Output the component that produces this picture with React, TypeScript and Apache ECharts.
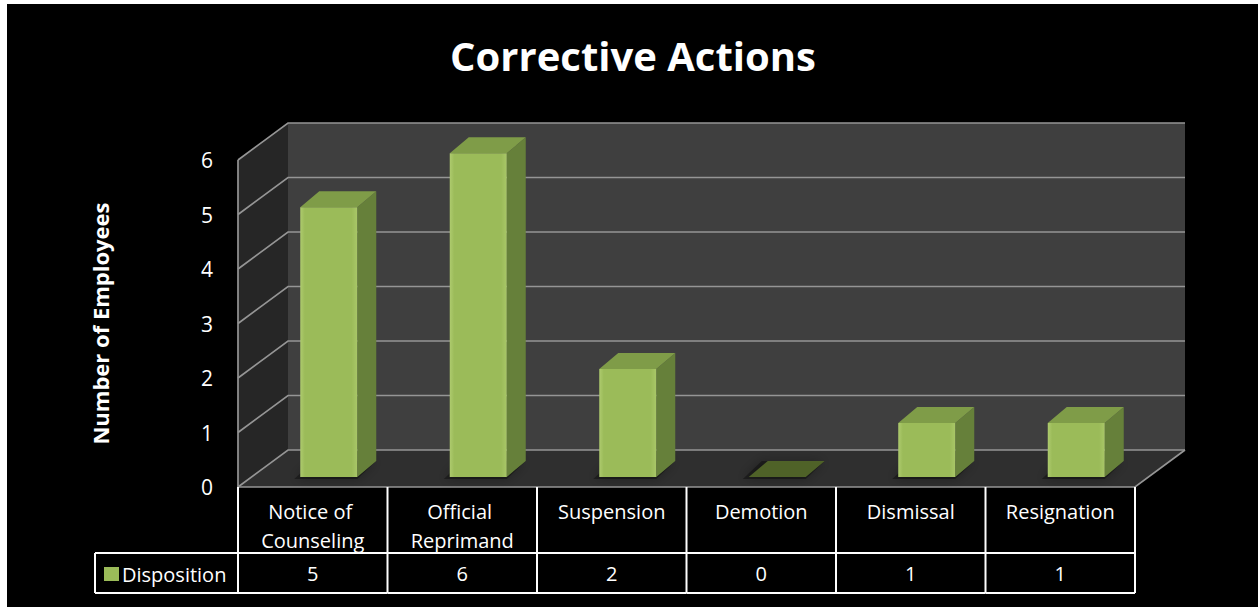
import React, { useEffect, useRef } from "react";
import * as echarts from "echarts";

const categories = ["Notice of Counseling", "Official Reprimand", "Suspension", "Demotion", "Dismissal", "Resignation"];
const disposition = [5, 6, 2, 0, 1, 1];
const yTicks = [0, 1, 2, 3, 4, 5, 6];
const seriesName = "Disposition";
const chartTitle = "Corrective Actions";
const yAxisTitle = "Number of Employees";

const FONT = "'Open Sans', 'Noto Sans', sans-serif";
const DEPTH = [50, -37];
const BAR_FRONT = [16, -10];
const BAR_DEPTH = [19, -16];
const BAR_W = 57;
const ROW1_H = 66;
const ROW2_H = 40;
const LEGEND_CELL_W = 143;

export default function App() {
  const ref = useRef<HTMLDivElement>(null);
  useEffect(() => {
    if (!ref.current) return;
    const chart = echarts.init(ref.current, undefined, { renderer: "svg" });
    const barData = disposition.map((v, i) => [i, v]);

    const wallsRender = (params: any, api: any) => {
      const cs = params.coordSys;
      const L = cs.x;
      const R = cs.x + cs.width;
      const yTop = api.coord([0, yTicks[yTicks.length - 1]])[1];
      const y0 = api.coord([0, 0])[1];
      const [dx, dy] = DEPTH;
      const children: any[] = [
        { type: "polygon", shape: { points: [[L, yTop], [L + dx, yTop + dy], [L + dx, y0 + dy], [L, y0]] }, style: { fill: "#262626" } },
        { type: "polygon", shape: { points: [[L + dx, yTop + dy], [R + dx, yTop + dy], [R + dx, y0 + dy], [L + dx, y0 + dy]] }, style: { fill: "#3f3f3f" } },
        { type: "polygon", shape: { points: [[L, y0], [R, y0], [R + dx, y0 + dy], [L + dx, y0 + dy]] }, style: { fill: "#2f2f2f" } },
      ];
      yTicks.forEach((t) => {
        const y = api.coord([0, t])[1];
        children.push({
          type: "polyline",
          shape: { points: [[L, y], [L + dx, y + dy], [R + dx, y + dy]] },
          style: { stroke: "#959595", lineWidth: 1.7, fill: null },
        });
      });
      children.push({
        type: "polyline",
        shape: { points: [[L, yTop], [L, y0], [R, y0], [R + dx, y0 + dy]] },
        style: { stroke: "#959595", lineWidth: 1.7, fill: null },
      });
      return { type: "group", children };
    };

    const barsRender = (params: any, api: any) => {
      const i = api.value(0);
      const v = api.value(1);
      const [cx, yv] = api.coord([i, v]);
      const yb0 = api.coord([i, 0])[1];
      const h = (yb0 - yv) * 0.99;
      const xl = cx + BAR_FRONT[0] - BAR_W / 2;
      const xr = xl + BAR_W;
      const yb = yb0 + BAR_FRONT[1];
      const yt = yb - h;
      const [dx, dy] = BAR_DEPTH;
      const children: any[] = [];
      children.push({
        type: "polygon",
        shape: { points: [[xl - 6, yb + 2], [xr, yb + 2], [xr + dx, yb + dy], [xl + dx - 6, yb + dy]] },
        style: { fill: "rgba(0,0,0,0.35)", shadowBlur: 12, shadowColor: "rgba(0,0,0,0.8)" },
      });
      if (h < 1) {
        children.push({
          type: "polygon",
          shape: { points: [[xl, yb], [xr, yb], [xr + dx, yb + dy], [xl + dx, yb + dy]] },
          style: { fill: "#4f6228" },
        });
        return { type: "group", children };
      }
      children.push({
        type: "polygon",
        shape: { points: [[xr, yt], [xr + dx, yt + dy], [xr + dx, yb + dy], [xr, yb]] },
        style: { fill: "#66803a" },
      });
      children.push({
        type: "polygon",
        shape: { points: [[xl, yt], [xl + dx, yt + dy], [xr + dx, yt + dy], [xr, yt]] },
        style: { fill: "#7f9c48" },
      });
      children.push({
        type: "rect",
        shape: { x: xl, y: yt, width: BAR_W, height: h },
        style: {
          fill: new echarts.graphic.LinearGradient(0, 0, 1, 0, [
            { offset: 0, color: "#aecb6e" },
            { offset: 0.08, color: "#9bbb59" },
            { offset: 0.9, color: "#9bbb59" },
            { offset: 1, color: "#a9c768" },
          ]),
        },
      });
      return { type: "group", children };
    };

    const tableRender = (params: any, api: any) => {
      const cs = params.coordSys;
      const i = api.value(0);
      const v = api.value(1);
      const [cx, y0] = api.coord([i, 0]);
      const half = api.size([1, 0])[0] / 2;
      const left = cx - half;
      const right = cx + half;
      const yMid = y0 + ROW1_H;
      const yBot = yMid + ROW2_H;
      const ls = { stroke: "#ffffff", lineWidth: 2 };
      const children: any[] = [
        { type: "line", shape: { x1: left, y1: y0, x2: left, y2: yBot }, style: ls },
        { type: "line", shape: { x1: left, y1: yMid, x2: right, y2: yMid }, style: ls },
        { type: "line", shape: { x1: left, y1: yBot, x2: right, y2: yBot }, style: ls },
        {
          type: "text",
          style: {
            x: cx, y: (yMid + yBot) / 2, text: String(v), fill: "#ffffff",
            font: `20px ${FONT}`, align: "center", verticalAlign: "middle",
          },
        },
      ];
      if (i === categories.length - 1) {
        children.push({ type: "line", shape: { x1: right, y1: y0, x2: right, y2: yBot }, style: ls });
      }
      if (i === 0) {
        const lx = cs.x - LEGEND_CELL_W;
        children.push({ type: "line", shape: { x1: lx, y1: yMid, x2: left, y2: yMid }, style: ls });
        children.push({ type: "line", shape: { x1: lx, y1: yBot, x2: left, y2: yBot }, style: ls });
        children.push({ type: "line", shape: { x1: lx, y1: yMid, x2: lx, y2: yBot }, style: ls });
      }
      return { type: "group", children };
    };

    chart.setOption({
      animation: false,
      backgroundColor: "#000000",
      textStyle: { fontFamily: FONT },
      title: {
        text: chartTitle,
        left: 621,
        textAlign: "center",
        top: 26,
        textStyle: { color: "#ffffff", fontSize: 40, fontWeight: "bold", fontFamily: FONT },
      },
      legend: {
        data: [{ name: seriesName, icon: "rect" }],
        left: 92,
        top: 555,
        itemWidth: 15,
        itemHeight: 14,
        itemGap: 4,
        textStyle: { color: "#ffffff", fontSize: 20, fontFamily: FONT, padding: [0, 0, 0, -2] },
        selectedMode: false,
      },
      grid: { left: 231, top: 156, width: 897, height: 327 },
      xAxis: {
        type: "category",
        data: categories,
        axisLine: { show: false },
        axisTick: { show: false },
        splitLine: { show: false },
        axisLabel: {
          color: "#ffffff",
          fontSize: 20,
          lineHeight: 29,
          margin: 10,
          interval: 0,
          width: 140,
          overflow: "break",
          verticalAlign: "top",
          fontFamily: FONT,
        },
      },
      yAxis: {
        type: "value",
        min: 0,
        max: 6,
        interval: 1,
        axisLine: { show: false },
        axisTick: { show: false },
        splitLine: { show: false },
        axisLabel: { color: "#ffffff", fontSize: 21, margin: 25, fontFamily: FONT },
        name: yAxisTitle,
        nameLocation: "middle",
        nameRotate: 90,
        nameGap: 127,
        nameTextStyle: { color: "#ffffff", fontSize: 22, fontWeight: "bold", fontFamily: FONT },
      },
      series: [
        { type: "custom", silent: true, z: 1, renderItem: wallsRender, data: [[0, 0]], clip: false },
        { type: "custom", silent: true, z: 2, renderItem: tableRender, data: barData, clip: false },
        {
          type: "custom",
          name: seriesName,
          z: 3,
          renderItem: barsRender,
          itemStyle: { color: "#9bbb59" },
          data: barData,
          clip: false,
        },
      ],
    });
    return () => chart.dispose();
  }, []);
  return (
    <div
      ref={ref}
      style={{ position: "fixed", left: 7, top: 4, width: 1251, height: 603 }}
    />
  );
}
